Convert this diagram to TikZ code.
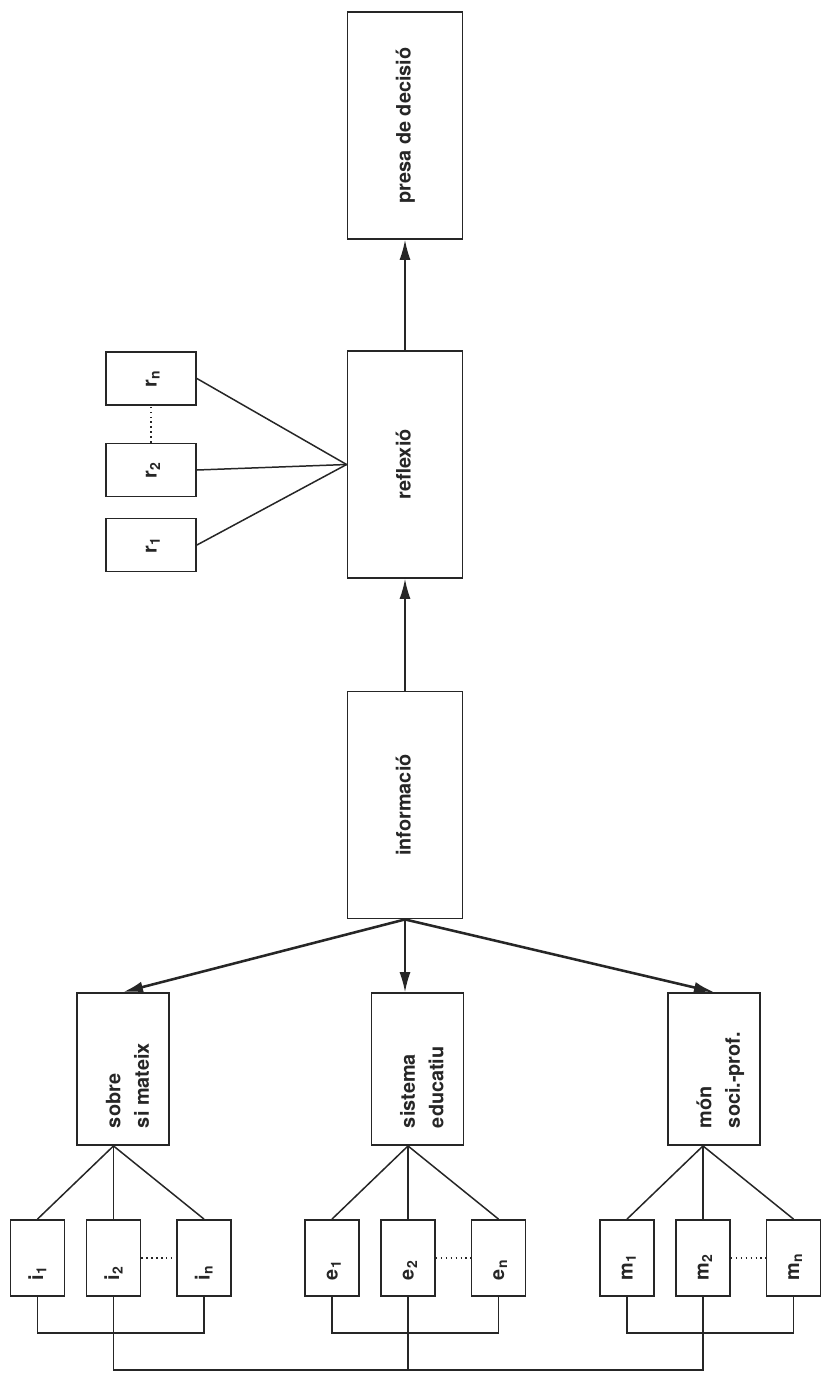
\documentclass[tikz,border=0pt]{standalone}
\usepackage{fontspec}
\setmainfont{TeX Gyre Heros}
\usepackage{graphicx}
\usetikzlibrary{arrows.meta}
\definecolor{ink}{HTML}{262626}
\newcommand{\vlab}[1]{\rotatebox{90}{\begin{tabular}{@{}l@{}}#1\end{tabular}}}

\begin{document}
\begin{tikzpicture}[
	x=0.2mm, y=-0.2mm,
  > = {Latex[length=4mm,width=2.2mm]},
  box/.style = {draw=ink, line width=1.05pt, inner sep=0pt, text=ink, font=\bfseries\fontsize{11.3}{16.2}\selectfont},
  phase/.style = {box, minimum width=23mm, minimum height=45.4mm},
  topic/.style = {box, minimum width=18.4mm, text height=27mm, text depth=3.4mm},
  item/.style = {box, minimum width=10.8mm, text height=12mm, text depth=3.2mm},
  refl/.style = {box, minimum width=18mm, minimum height=10.6mm},
  link/.style = {draw=ink, line width=0.85pt},
  bold link/.style = {draw=ink, line width=1.45pt},
  gap/.style = {draw=ink, line width=0.8pt, dotted}
  ]
	\path[fill=white, use as bounding box] (0,0) rectangle (821,1374);

	\coordinate (brk) at (0,1333);
	\coordinate (base) at (0,1370);

	\node[phase] (presa) at (405,125.5) {\vlab{presa de decisió}};
	\node[phase] (reflexio) at (405,464.5) {\vlab{reflexió}};
	\node[phase] (informacio) at (405,805) {\vlab{informació}};

	\node[refl] (r1) at (151,545) {\vlab{r\textsubscript{1}}};
	\node[refl] (r2) at (151,470) {\vlab{r\textsubscript{2}}};
	\node[refl] (rn) at (151,378.5) {\vlab{r\textsubscript{n}}};

	\node[topic] (sobre) at (123,1069) {\hspace*{2.4mm}\vlab{sobre\\si mateix}};
	\node[topic] (sistema) at (417.5,1069) {\hspace*{2.4mm}\vlab{sistema\\educatiu}};
	\node[topic] (mon) at (714,1069) {\hspace*{2.4mm}\vlab{món\\soci.-prof.}};

	\foreach \s/\x in {i/37.5, e/332, m/627} {
		\node[item] (\s-1) at (\x,1258) {\vlab{\s\textsubscript{1}}};
		\node[item] (\s-2) at (\x+76,1258) {\vlab{\s\textsubscript{2}}};
		\node[item] (\s-n) at (\x+166.5,1258) {\vlab{\s\textsubscript{n}}};
	}

	\foreach \t/\s in {sobre/i, sistema/e, mon/m} {
		\draw[link] (\s-2.north |- \t.south) -- (\s-1.north);
		\draw[link] (\s-2.north |- \t.south) -- (\s-2.north);
		\draw[link] (\s-2.north |- \t.south) -- (\s-n.north);
		\draw[link] (\s-1.south) -- (\s-1.south |- brk) -| (\s-n.south);
		\draw[gap] (\s-2.east) -- (\s-n.west);
	}
	\draw[link] (i-2.south) -- (i-2.south |- base) -| (m-2.south);
	\draw[link] (e-2.south) -- (e-2.south |- base);

	\draw[link,->] (informacio.north) -- (reflexio.south);
	\draw[link,->] (reflexio.north) -- (presa.south);
	\draw[bold link,->] (informacio.south) -- (sobre.north);
	\draw[link,->] (informacio.south) -- (informacio.south |- sistema.north);
	\draw[bold link,->] (informacio.south) -- (mon.north);

	\foreach \r in {r1,r2,rn}
		\draw[link] (\r.east) -- (reflexio.west);
	\draw[gap] (r2.north) -- (rn.south);

\end{tikzpicture}
\end{document}
